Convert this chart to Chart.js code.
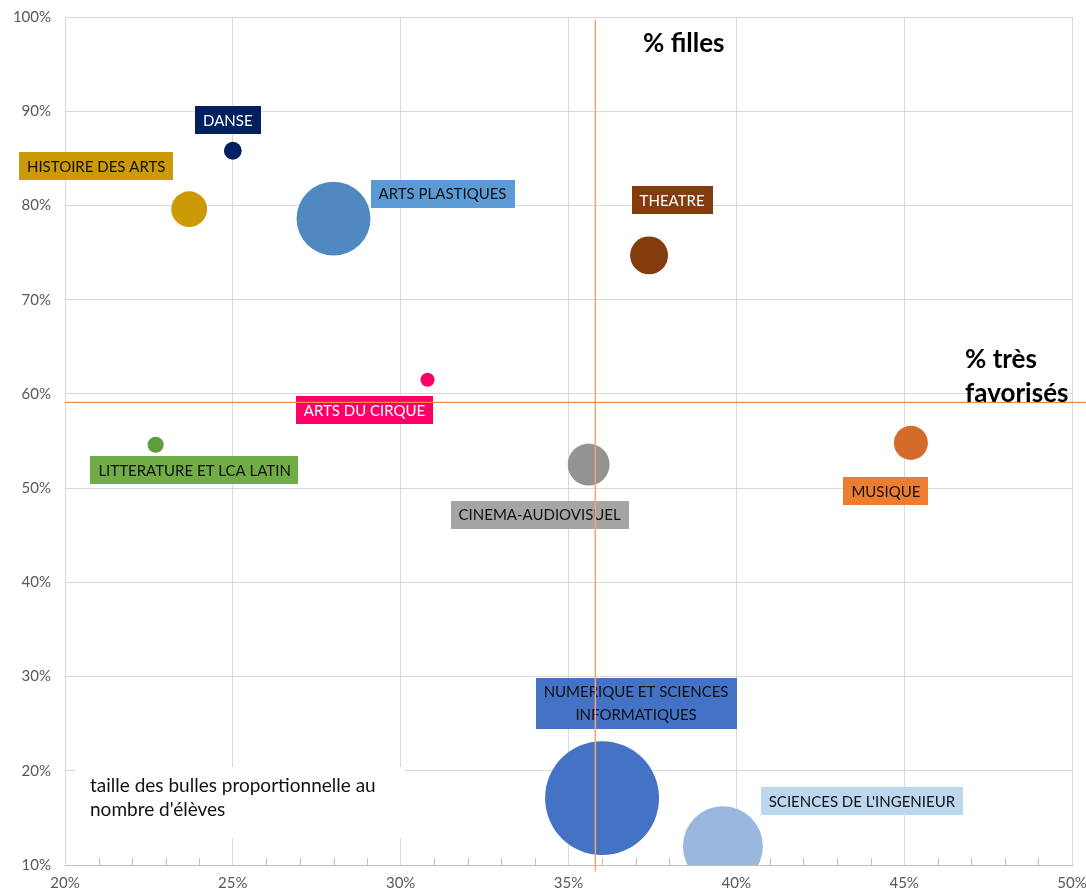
<!DOCTYPE html>
<html><head><meta charset="utf-8">
<script src="https://cdn.jsdelivr.net/npm/chart.js@4/dist/chart.umd.min.js"></script>
<style>html,body{margin:0;padding:0;background:#fff;}#wrap{width:1086px;height:896px;position:relative;}</style>
</head><body><div id="wrap"><canvas id="c" width="1086" height="896"></canvas></div>
<script>
const categories = ["DANSE","HISTOIRE DES ARTS","ARTS PLASTIQUES","THEATRE","ARTS DU CIRQUE","LITTERATURE ET LCA LATIN","CINEMA-AUDIOVISUEL","MUSIQUE","NUMERIQUE ET SCIENCES\nINFORMATIQUES","SCIENCES DE L'INGENIEUR"];
const pctTresFavorises = [25.0, 23.7, 28.0, 37.4, 30.8, 22.7, 35.6, 45.2, 36.0, 39.6];
const pctFilles = [85.8, 79.6, 78.6, 74.7, 61.5, 54.6, 52.5, 54.8, 17.1, 12.0];
const nbEleves = [800, 3200, 13700, 3600, 500, 650, 4400, 2900, 32500, 16000];
const refTresFavorises = [35.8];
const refFilles = [59.1];
const xTickValues = [20, 25, 30, 35, 40, 45, 50];
const yTickValues = [10, 20, 30, 40, 50, 60, 70, 80, 90, 100];
const noteText = ["taille des bulles proportionnelle au", "nombre d'élèves"];

const bubbleColors = ["#002060","#CC9A06","#4F89C0","#843C0C","#FF0066","#5F9E3C","#939393","#D46B2A","#4472C4","#9AB8DE"];
const boxColors = ["#002060","#CC9A06","#5B9BD5","#843C0C","#FF0066","#70AD47","#A5A5A5","#ED7D31","#4472C4","#BDD7EE"];
const textColors = ["#fff","#111","#111","#fff","#fff","#111","#111","#111","#111","#111"];
const labelOffsets = [[-5,-31],[-93,-43],[109,-25],[23,-55],[-63,30],[39,25],[-49,50],[-25,48],[34,-95],[139,-45]];

const FONT = "Lato, 'Open Sans', sans-serif";

const labelPlugin = {
  id: 'labels',
  beforeDatasetsDraw(chart) {
    const ctx = chart.ctx;
    ctx.save();
    ctx.fillStyle = '#fff';
    ctx.fillRect(75, 767, 330, 71);
    ctx.fillStyle = '#111';
    ctx.font = "19px " + FONT;
    ctx.textBaseline = 'middle';
    ctx.textAlign = 'left';
    ctx.fillText(noteText[0], 90, 786);
    ctx.fillText(noteText[1], 90, 810);
    const xs = chart.scales.x, ys = chart.scales.y;
    const yb = ys.getPixelForValue(10);
    ctx.strokeStyle = '#BFBFBF';
    ctx.lineWidth = 1;
    for (let v = 21; v < 50; v++) {
      if (v % 5 === 0) continue;
      const px = Math.round(xs.getPixelForValue(v)) + 0.5;
      ctx.beginPath(); ctx.moveTo(px, yb - 7); ctx.lineTo(px, yb); ctx.stroke();
    }
    ctx.restore();
  },
  afterDatasetsDraw(chart) {
    const ctx = chart.ctx;
    const meta = chart.getDatasetMeta(0);
    ctx.save();
    ctx.font = "15px " + FONT;
    ctx.textBaseline = 'middle';
    ctx.textAlign = 'center';
    meta.data.forEach((pt, i) => {
      const lines = categories[i].split("\n");
      const cx = pt.x + labelOffsets[i][0];
      const cy = pt.y + labelOffsets[i][1];
      const w = Math.max(...lines.map(l => ctx.measureText(l).width)) + 16;
      const lh = 23;
      const h = lines.length * lh + 5;
      ctx.fillStyle = boxColors[i];
      ctx.fillRect(Math.round(cx - w/2), Math.round(cy - h/2), Math.round(w), Math.round(h));
      ctx.fillStyle = textColors[i];
      lines.forEach((l, k) => {
        ctx.fillText(l, cx, cy - (lines.length - 1) * lh / 2 + k * lh + 1);
      });
    });
    const xs = chart.scales.x, ys = chart.scales.y;
    const vx = xs.getPixelForValue(refTresFavorises[0]);
    const hy = ys.getPixelForValue(refFilles[0]);
    ctx.strokeStyle = '#F4A572';
    ctx.lineWidth = 1.5;
    ctx.beginPath(); ctx.moveTo(vx, ys.getPixelForValue(99.7)); ctx.lineTo(vx, ys.getPixelForValue(9.3)); ctx.stroke();
    ctx.strokeStyle = '#F08A4B';
    ctx.lineWidth = 1.2;
    ctx.beginPath(); ctx.moveTo(xs.getPixelForValue(20), hy); ctx.lineTo(chart.width, hy); ctx.stroke();
    ctx.fillStyle = '#000';
    ctx.font = "bold 26px " + FONT;
    ctx.textAlign = 'left';
    ctx.fillText("% filles", 643, 44);
    ctx.fillText("% très", 965, 360);
    ctx.fillText("favorisés", 965, 394);
    ctx.restore();
  }
};

new Chart(document.getElementById('c'), {
  type: 'bubble',
  data: {
    datasets: [{
      data: pctTresFavorises.map((x, i) => ({x: x, y: pctFilles[i], r: 0.316 * Math.sqrt(nbEleves[i])})),
      backgroundColor: bubbleColors,
      borderWidth: 0,
      hoverBorderWidth: 0
    }]
  },
  options: {
    responsive: false,
    animation: false,
    devicePixelRatio: 1,
    layout: { autoPadding: false, padding: { top: 17, right: 14, left: 0, bottom: 0 } },
    plugins: { legend: { display: false }, tooltip: { enabled: false } },
    scales: {
      x: {
        type: 'linear', min: 20, max: 50,
        afterBuildTicks: s => { s.ticks = xTickValues.map(v => ({value: v})); },
        afterFit: s => { s.height = 31; s.paddingLeft = 0; s.paddingRight = 0; },
        grid: { color: '#D9D9D9', drawTicks: false },
        border: { display: true, color: '#BFBFBF' },
        ticks: { padding: 9, color: '#595959', font: { family: FONT, size: 15 }, callback: v => v + '%' }
      },
      y: {
        type: 'linear', min: 10, max: 100,
        afterBuildTicks: s => { s.ticks = yTickValues.map(v => ({value: v})); },
        afterFit: s => { s.width = 65; s.paddingTop = 0; s.paddingBottom = 0; },
        grid: { color: '#D9D9D9', drawTicks: false },
        border: { display: false },
        ticks: { padding: 14, color: '#595959', font: { family: FONT, size: 15 }, callback: v => v + '%' }
      }
    }
  },
  plugins: [labelPlugin]
});
</script>
</body></html>
